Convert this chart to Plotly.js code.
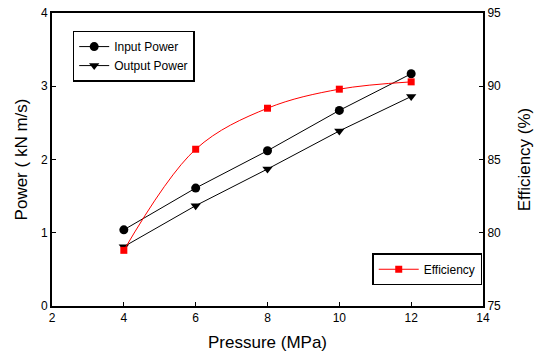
<!DOCTYPE html>
<html>
<head>
<script src="https://cdn.plot.ly/plotly-3.0.1.min.js"></script>
<style>html,body{margin:0;padding:0;background:#fff;}#chart{width:537px;height:354px;}</style>
</head>
<body>
<div id="chart"></div>
<script>
const pressure = [4, 6, 8, 10, 12];
const inputPower = [1.04, 1.61, 2.12, 2.67, 3.17];
const outputPower = [0.81, 1.37, 1.87, 2.39, 2.86];
const efficiency = [78.8, 85.7, 88.5, 89.8, 90.3];

const fontFam = '"Liberation Sans", Arial, sans-serif';

const traces = [
  {x: pressure, y: inputPower, name: 'Input Power', type: 'scatter', mode: 'lines+markers',
   line: {color: '#000', width: 1}, marker: {symbol: 'circle', size: 9, color: '#000'}, legend: 'legend'},
  {x: pressure, y: outputPower, name: 'Output Power', type: 'scatter', mode: 'lines+markers',
   line: {color: '#000', width: 1}, marker: {symbol: 'triangle-down', size: 9, color: '#000'}, legend: 'legend'},
  {x: pressure, y: efficiency, name: 'Efficiency', type: 'scatter', mode: 'lines+markers', yaxis: 'y2',
   line: {color: '#ff0000', width: 1, shape: 'spline', smoothing: 1}, marker: {symbol: 'square', size: 7, color: '#ff0000'}, legend: 'legend2'}
];

const layout = {
  width: 537, height: 354,
  margin: {l: 52, r: 54, t: 13, b: 48},
  paper_bgcolor: '#fff', plot_bgcolor: '#fff',
  font: {family: fontFam, size: 12, color: '#000'},
  showlegend: true,
  xaxis: {range: [2, 14], tickvals: [2,4,6,8,10,12,14], ticks: 'inside', ticklen: 4, tickcolor: '#000',
    showline: true, linecolor: '#000', linewidth: 2, mirror: true, showgrid: false, zeroline: false,
    title: {text: 'Pressure (MPa)', font: {size: 17}, standoff: 12}, tickfont: {size: 12}},
  yaxis: {range: [0, 4], tickvals: [0,1,2,3,4], ticks: 'inside', ticklen: 4, tickcolor: '#000',
    showline: true, linecolor: '#000', linewidth: 2, showgrid: false, zeroline: false,
    title: {text: 'Power ( kN m/s)', font: {size: 17}, standoff: 9}, tickfont: {size: 12}},
  yaxis2: {range: [75, 95], tickvals: [75,80,85,90,95], overlaying: 'y', side: 'right', ticks: 'inside', ticklen: 4, tickcolor: '#000',
    showline: true, linecolor: '#000', linewidth: 2, showgrid: false, zeroline: false,
    title: {text: 'Efficiency (%)', font: {size: 17}, standoff: 18}, tickfont: {size: 12}},
  legend: {x: 0.048, y: 0.94, xanchor: 'left', yanchor: 'top', bordercolor: '#000', borderwidth: 1.5,
    bgcolor: '#fff', font: {size: 12}, tracegroupgap: 0, itemwidth: 30},
  legend2: {x: 0.743, y: 0.18, xanchor: 'left', yanchor: 'top', bordercolor: '#000', borderwidth: 1.5,
    bgcolor: '#fff', font: {size: 12}, itemwidth: 40}
};

Plotly.newPlot('chart', traces, layout, {displayModeBar: false, staticPlot: true});
</script>
</body>
</html>
